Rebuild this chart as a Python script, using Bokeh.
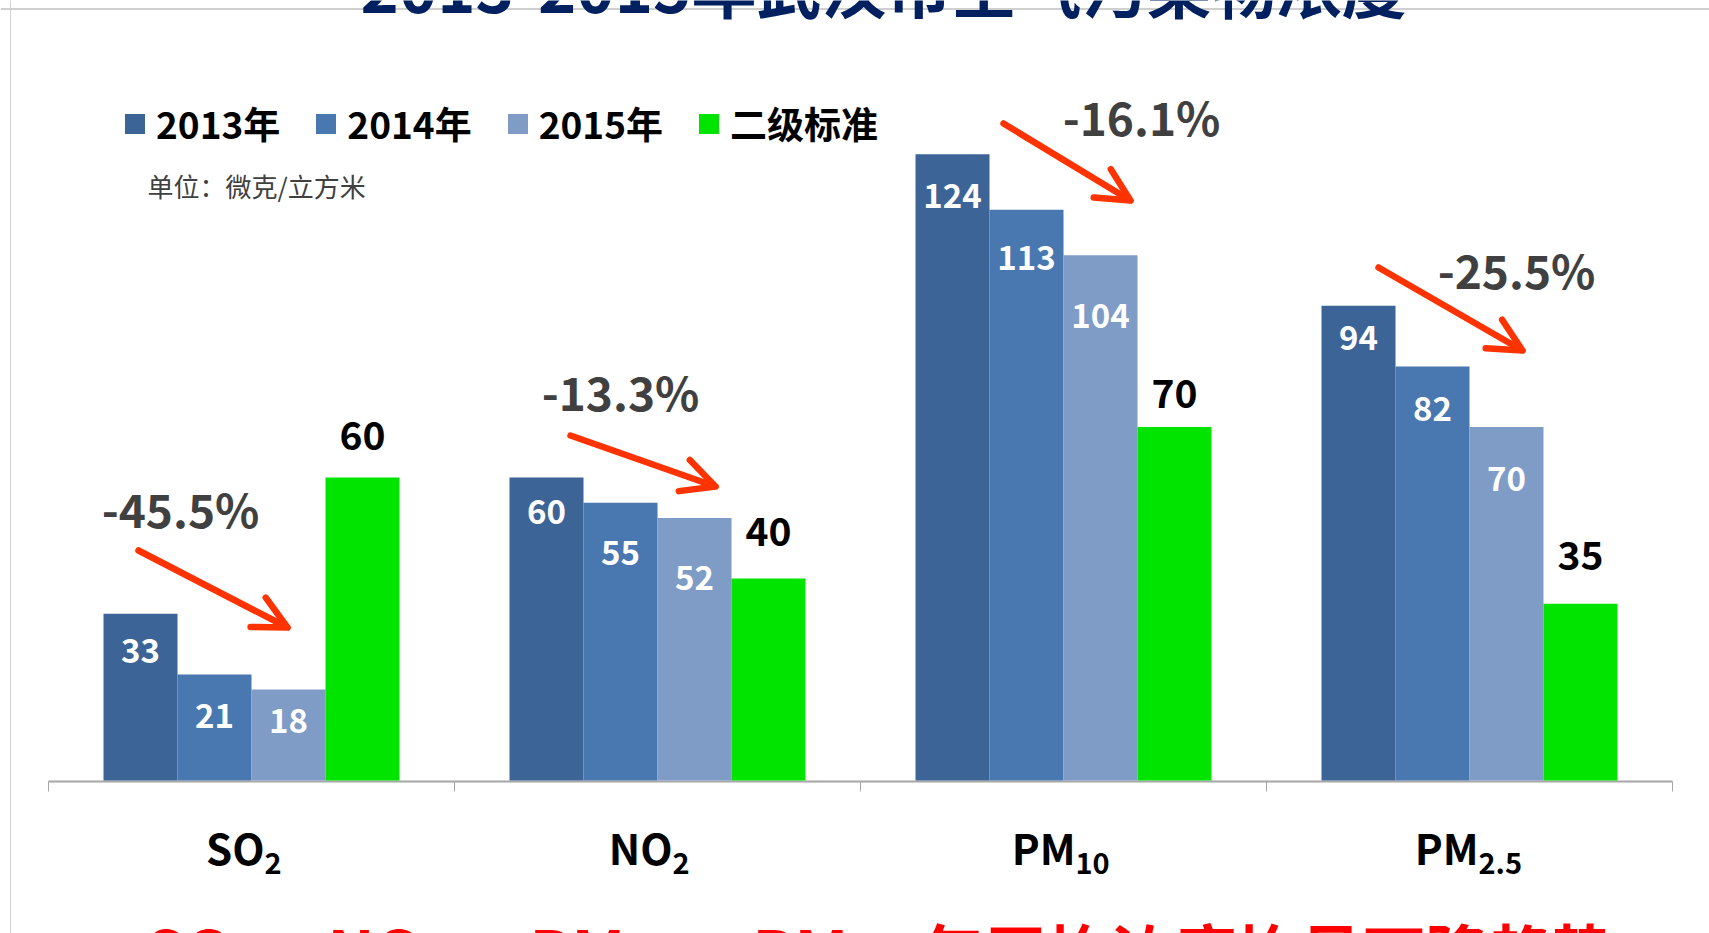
import re
from bokeh.plotting import figure
from bokeh.models import (ColumnDataSource, Range1d, Label, Arrow, OpenHead, Span,
                          Legend, LegendItem)
from bokeh.core.properties import value
from bokeh.embed import file_html
from bokeh.resources import INLINE

# ---------------- data ----------------
categories = ["SO2", "NO2", "PM10", "PM2.5"]
series_names = ["2013年", "2014年", "2015年", "二级标准"]
v2013 = [33, 60, 124, 94]
v2014 = [21, 55, 113, 82]
v2015 = [18, 52, 104, 70]
standard = [60, 40, 70, 35]
title_text = "2013-2015年武汉市空气污染物浓度"
unit_text = "单位：微克/立方米"
footer_parts = ["SO₂、", "NO₂、", "PM₁₀、", "PM₂.₅", "年平均浓度均呈下降趋势"]

# ---------------- layout / style ----------------
W, H = 1709, 933
PX_PER_UNIT = 5.05
CAT_PX = 406.0
LEFT_PX = 48.0      # pixel x of the first category boundary
BASE_PX = 780.0     # pixel y of value 0
BAR_W = 74.0 / CAT_PX
FONT = "Noto Sans CJK SC"
colors = ["#3D6496", "#4977AF", "#7F9CC7", "#00E400"]
label_colors = ["white", "white", "white", "black"]
label_sizes = ["33px", "33px", "33px", "39px"]
# px from bar top to label anchor (negative = above the bar)
label_offsets = [
    [37, 34, 41, 32],
    [41, 50, 48, 42],
    [31, 60, 60, 51],
    [-42, -47, -34, -48],
]
# pixel positions of the hand-placed annotations
pct_pos = [(180, 507), (620, 390), (1141, 115), (1516, 268)]
arrow_pos = [((138, 550), (287, 627)), ((570, 435), (715, 486)),
             ((1003, 123), (1130, 200)), ((1378, 267), (1522, 350))]
cat_junction = [13, 15, 12, 9]
footer_x = [145, 327, 529, 752, 921]


def xd(px):
    return (px - LEFT_PX) / CAT_PX


def yd(py):
    return (BASE_PX - py) / PX_PER_UNIT


p = figure(width=W, height=H, output_backend="svg", toolbar_location=None,
           x_range=Range1d(xd(0), xd(W)), y_range=Range1d(yd(H), yd(0)),
           x_axis_type=None, y_axis_type=None,
           min_border_left=0, min_border_right=0, min_border_top=0,
           min_border_bottom=0)
p.outline_line_color = None
p.background_fill_color = "white"
p.border_fill_color = "white"

# slide borders
p.add_layout(Span(location=yd(8.5), dimension="width", line_color="#BFBFBF",
                  line_width=1.5))
p.add_layout(Span(location=xd(10), dimension="height", line_color="#D0D0D0",
                  line_width=1))

# category axis: base line and boundary ticks
n = len(categories)
p.segment(x0=[0], y0=[-1 / PX_PER_UNIT], x1=[n], y1=[-1 / PX_PER_UNIT],
          line_color="#A6A6A6", line_width=2)
p.segment(x0=list(range(n + 1)), y0=[-1 / PX_PER_UNIT] * (n + 1),
          x1=list(range(n + 1)), y1=[-11 / PX_PER_UNIT] * (n + 1),
          line_color="#A6A6A6", line_width=1)

all_series = [v2013, v2014, v2015, standard]
renderers = []
for k, vals in enumerate(all_series):
    xs = [i + 0.5 + (k - 1.5) * BAR_W for i in range(n)]
    src = ColumnDataSource(dict(
        x=xs, top=vals,
        ly=[v - off / PX_PER_UNIT for v, off in zip(vals, label_offsets[k])],
        txt=[str(v) for v in vals]))
    r = p.vbar(x="x", top="top", width=BAR_W, bottom=0, source=src,
               fill_color=colors[k], line_color=None)
    renderers.append(r)
    p.text(x="x", y="ly", text="txt", source=src, text_align="center",
           text_baseline="middle", text_color=label_colors[k],
           text_font=value(FONT), text_font_style="bold",
           text_font_size=label_sizes[k])

# legend
legend = Legend(items=[LegendItem(label=s, renderers=[r])
                       for s, r in zip(series_names, renderers)],
                orientation="horizontal", location=(122, 783),
                padding=0, margin=0, spacing=33, label_standoff=9,
                glyph_width=25, glyph_height=25,
                label_text_font=FONT, label_text_font_size="37px",
                label_text_font_style="bold", label_text_color="black",
                border_line_color=None, background_fill_alpha=0)
p.add_layout(legend)

# unit text
p.add_layout(Label(x=xd(147), y=yd(185), text=unit_text, text_align="left",
                   text_baseline="middle", text_font=FONT,
                   text_font_size="26px", text_color="#404040"))

# percentage change and arrows
for i in range(n):
    pct = (v2015[i] - v2013[i]) / v2013[i] * 100
    cx, cy = pct_pos[i]
    p.add_layout(Label(x=xd(cx), y=yd(cy), text=f"{pct:.1f}%",
                       text_align="center", text_baseline="middle",
                       text_font=FONT, text_font_style="bold",
                       text_font_size="46px", text_color="#404040"))
    (sx, sy), (ex, ey) = arrow_pos[i]
    p.add_layout(Arrow(x_start=xd(sx), y_start=yd(sy), x_end=xd(ex), y_end=yd(ey),
                       line_color="#FF3300", line_width=6.5, line_cap="round",
                       end=OpenHead(size=33, line_color="#FF3300", line_width=6.5,
                                    line_cap="round", line_join="round")))

# category labels with subscripts
for i, name in enumerate(categories):
    main, sub = re.match(r"([A-Za-z]+)([\d.]+)", name).groups()
    jx = i + 0.5 + cat_junction[i] / CAT_PX
    p.add_layout(Label(x=jx, y=yd(846), text=main, text_align="right",
                       text_baseline="middle", text_font=FONT,
                       text_font_style="bold", text_font_size="42px",
                       text_color="black"))
    p.add_layout(Label(x=jx, y=yd(862), text=sub, text_align="left",
                       text_baseline="middle", text_font=FONT,
                       text_font_style="bold", text_font_size="29px",
                       text_color="black"))

# title (cut off at the top) and footer (cut off at the bottom)
p.add_layout(Label(x=xd(883), y=yd(-16), text=title_text, text_align="center",
                   text_baseline="middle", text_font=FONT,
                   text_font_style="bold", text_font_size="65px",
                   text_color="#002060"))
for fx, part in zip(footer_x, footer_parts):
    p.add_layout(Label(x=xd(fx), y=yd(949), text=part, text_align="left",
                       text_baseline="middle", text_font=FONT,
                       text_font_style="bold", text_font_size="63px",
                       text_color="#FF0000"))

open("out.html", "w").write(file_html(p, INLINE))
